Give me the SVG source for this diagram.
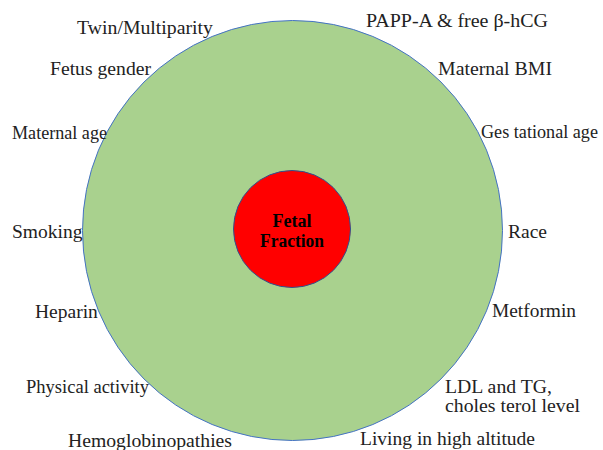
<svg xmlns="http://www.w3.org/2000/svg" width="603" height="450" viewBox="0 0 603 450">
<style>
.lbl{font-family:"Liberation Serif","Times New Roman",serif;font-size:19.5px;fill:#222}
.core{font-family:"Liberation Serif","Times New Roman",serif;font-size:18.5px;font-weight:bold;fill:#000;text-anchor:middle}
</style>
<rect width="603" height="450" fill="#fff"/>
<g id="outer">
<circle cx="292.5" cy="230.5" r="210" fill="#A9D18E" stroke="#4472C4" stroke-width="1"/>
</g>
<g id="center">
<circle cx="292" cy="229" r="58.5" fill="#FF0000" stroke="#2F528F" stroke-width="1"/>
<text class="core" x="292" y="226.5" textLength="39" lengthAdjust="spacingAndGlyphs">Fetal</text>
<text class="core" x="292" y="246.5" textLength="64" lengthAdjust="spacingAndGlyphs">Fraction</text>
</g>
<g id="connectors"></g>
<g id="labels">
<g id="twin"><text class="lbl" x="77" y="34" textLength="136" lengthAdjust="spacingAndGlyphs">Twin/Multiparity</text></g>
<g id="gender"><text class="lbl" x="50" y="75" textLength="101" lengthAdjust="spacingAndGlyphs">Fetus gender</text></g>
<g id="matage"><text class="lbl" x="12" y="139" textLength="95" lengthAdjust="spacingAndGlyphs">Maternal age</text></g>
<g id="smoking"><text class="lbl" x="12" y="238">Smoking</text></g>
<g id="heparin"><text class="lbl" x="35" y="318">Heparin</text></g>
<g id="physical"><text class="lbl" x="26" y="393" textLength="123" lengthAdjust="spacingAndGlyphs">Physical activity</text></g>
<g id="hemo"><text class="lbl" x="68" y="447" textLength="164" lengthAdjust="spacingAndGlyphs">Hemoglobinopathies</text></g>
<g id="papp"><text class="lbl" x="366" y="27" textLength="182" lengthAdjust="spacingAndGlyphs">PAPP-A &amp; free β-hCG</text></g>
<g id="bmi"><text class="lbl" x="438" y="75" textLength="114" lengthAdjust="spacingAndGlyphs">Maternal BMI</text></g>
<g id="gesage"><text class="lbl" x="481" y="138" style="font-size:18.5px" textLength="117" lengthAdjust="spacingAndGlyphs">Ges tational age</text></g>
<g id="race"><text class="lbl" x="508" y="238">Race</text></g>
<g id="metformin"><text class="lbl" x="492" y="317" textLength="84" lengthAdjust="spacingAndGlyphs">Metformin</text></g>
<g id="ldl"><text class="lbl" x="445" y="393" textLength="107" lengthAdjust="spacingAndGlyphs">LDL and TG,</text><text class="lbl" x="445" y="412" textLength="135" lengthAdjust="spacingAndGlyphs">choles terol level</text></g>
<g id="altitude"><text class="lbl" x="360" y="445" textLength="175" lengthAdjust="spacingAndGlyphs">Living in high altitude</text></g>
</g>
</svg>
